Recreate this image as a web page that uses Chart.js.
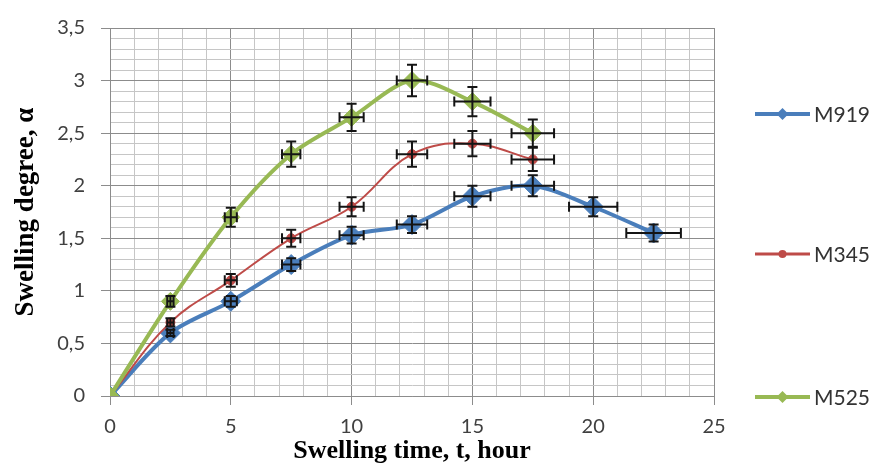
<!DOCTYPE html>
<html>
<head>
<meta charset="utf-8">
<script src="https://cdn.jsdelivr.net/npm/chart.js@4.4.1/dist/chart.umd.min.js"></script>
<style>
html, body { margin: 0; padding: 0; background: #fff; }
#wrap { width: 875px; height: 470px; position: relative; }
</style>
</head>
<body>
<div id="wrap"><canvas id="chart"></canvas></div>
<script>
// --- values --------------------------------------------------------------
var seriesNames = ["M919", "M345", "M525"];

var timeM919 = [0, 2.5, 5, 7.5, 10, 12.5, 15, 17.5, 20, 22.5];
var degreeM919 = [0, 0.6, 0.9, 1.25, 1.53, 1.63, 1.9, 2.0, 1.8, 1.55];
var timeErrM919 = [0, 0.13, 0.25, 0.38, 0.5, 0.63, 0.75, 0.88, 1.0, 1.13];
var degreeErrM919 = [0, 0.03, 0.05, 0.06, 0.08, 0.08, 0.1, 0.1, 0.09, 0.08];

var timeM345 = [0, 2.5, 5, 7.5, 10, 12.5, 15, 17.5];
var degreeM345 = [0, 0.7, 1.1, 1.5, 1.8, 2.3, 2.4, 2.25];
var timeErrM345 = [0, 0.13, 0.25, 0.38, 0.5, 0.63, 0.75, 0.88];
var degreeErrM345 = [0, 0.04, 0.06, 0.08, 0.09, 0.12, 0.12, 0.11];

var timeM525 = [0, 2.5, 5, 7.5, 10, 12.5, 15, 17.5];
var degreeM525 = [0, 0.9, 1.7, 2.3, 2.65, 3.0, 2.8, 2.5];
var timeErrM525 = [0, 0.13, 0.25, 0.38, 0.5, 0.63, 0.75, 0.88];
var degreeErrM525 = [0, 0.05, 0.09, 0.12, 0.13, 0.15, 0.14, 0.13];

// labelled (major) ticks; minor grid every 1 h / 0.1
var xTickValues = [0, 5, 10, 15, 20, 25];
var xTickLabels = ["0", "5", "10", "15", "20", "25"];
var yTickValues = [0, 0.5, 1, 1.5, 2, 2.5, 3, 3.5];
var yTickLabels = ["0", "0,5", "1", "1,5", "2", "2,5", "3", "3,5"];

var MAJOR_GRID = "#8c8c8c";
var MINOR_GRID = "#c6c6c6";

function findTick(list, v) {
    for (var i = 0; i < list.length; i++) {
        if (Math.abs(list[i] - v) < 1e-6) return i;
    }
    return -1;
}

function toPoints(xs, ys) {
    var pts = [];
    for (var i = 0; i < xs.length; i++) pts.push({x: xs[i], y: ys[i]});
    return pts;
}

// --- error bars, drawn through the chart's scales ------------------------
var errorBarPlugin = {
    id: "errorBars",
    afterDatasetsDraw: function (chart) {
        var ctx = chart.ctx;
        var xs = chart.scales.x, ys = chart.scales.y;
        var cap = 5;
        ctx.save();
        ctx.strokeStyle = "#141414";
        ctx.lineWidth = 2;
        chart.data.datasets.forEach(function (ds) {
            ds.data.forEach(function (p, i) {
                var px = xs.getPixelForValue(p.x);
                var py = ys.getPixelForValue(p.y);
                var ey = ds.yErr[i], ex = ds.xErr[i];
                ctx.beginPath();
                if (ey > 0) {
                    var y1 = ys.getPixelForValue(p.y - ey), y2 = ys.getPixelForValue(p.y + ey);
                    ctx.moveTo(px, y1); ctx.lineTo(px, y2);
                    ctx.moveTo(px - cap, y1); ctx.lineTo(px + cap, y1);
                    ctx.moveTo(px - cap, y2); ctx.lineTo(px + cap, y2);
                }
                if (ex > 0) {
                    var x1 = xs.getPixelForValue(p.x - ex), x2 = xs.getPixelForValue(p.x + ex);
                    ctx.moveTo(x1, py); ctx.lineTo(x2, py);
                    ctx.moveTo(x1, py - cap); ctx.lineTo(x1, py + cap);
                    ctx.moveTo(x2, py - cap); ctx.lineTo(x2, py + cap);
                }
                ctx.stroke();
            });
        });
        ctx.restore();
    }
};

// --- Excel-like legend spread down the right side ------------------------
var legendRows = [114, 254, 397];
var spreadLegendPlugin = {
    id: "spreadLegend",
    afterDraw: function (chart) {
        var ctx = chart.ctx;
        ctx.save();
        chart.data.datasets.forEach(function (ds, i) {
            var y = legendRows[i];
            var x0 = 755, x1 = 810, mx = (x0 + x1) / 2;
            ctx.strokeStyle = ds.borderColor;
            ctx.lineWidth = ds.legendLineWidth;
            ctx.beginPath();
            ctx.moveTo(x0, y); ctx.lineTo(x1, y);
            ctx.stroke();
            ctx.fillStyle = ds.backgroundColor;
            ctx.beginPath();
            var r = ds.legendMarker;
            if (ds.pointStyle === "circle") {
                ctx.arc(mx, y, r, 0, Math.PI * 2);
            } else {
                ctx.moveTo(mx, y - r); ctx.lineTo(mx + r, y);
                ctx.lineTo(mx, y + r); ctx.lineTo(mx - r, y);
                ctx.closePath();
            }
            ctx.fill();
            ctx.fillStyle = "#333333";
            ctx.font = "21px Lato";
            ctx.textBaseline = "middle";
            ctx.textAlign = "left";
            ctx.fillText(ds.label, 814, y + 1);
        });
        ctx.restore();
    }
};

var datasets = [
    {
        label: seriesNames[0],
        data: toPoints(timeM919, degreeM919),
        xErr: timeErrM919, yErr: degreeErrM919,
        borderColor: "#4a7ebb", backgroundColor: "#4a7ebb",
        borderWidth: 4, tension: 0.3,
        pointStyle: "rectRot", pointRadius: 10, pointBorderWidth: 1,
        legendLineWidth: 4, legendMarker: 6,
        order: 2
    },
    {
        label: seriesNames[1],
        data: toPoints(timeM345, degreeM345),
        xErr: timeErrM345, yErr: degreeErrM345,
        borderColor: "#be4b48", backgroundColor: "#be4b48",
        borderWidth: 2, tension: 0.4,
        pointStyle: "circle", pointRadius: 4.5, pointBorderWidth: 1,
        legendLineWidth: 3, legendMarker: 4,
        order: 1
    },
    {
        label: seriesNames[2],
        data: toPoints(timeM525, degreeM525),
        xErr: timeErrM525, yErr: degreeErrM525,
        borderColor: "#98b954", backgroundColor: "#98b954",
        borderWidth: 4, tension: 0.3,
        pointStyle: "rectRot", pointRadius: 9, pointBorderWidth: 1,
        legendLineWidth: 4, legendMarker: 6,
        order: 0
    }
];

new Chart(document.getElementById("chart"), {
    type: "line",
    data: {datasets: datasets},
    plugins: [errorBarPlugin, spreadLegendPlugin],
    options: {
        responsive: true,
        maintainAspectRatio: false,
        animation: false,
        devicePixelRatio: 1,
        layout: {padding: {left: 0, top: 24, right: 161, bottom: 0}},
        plugins: {legend: {display: false}, tooltip: {enabled: false}},
        scales: {
            x: {
                type: "linear", min: 0, max: 25,
                afterFit: function (s) { s.height = 74; },
                ticks: {
                    stepSize: 1, autoSkip: false, maxRotation: 0, padding: 10,
                    color: "#404040", font: {family: "Lato", size: 20},
                    callback: function (v) {
                        var k = findTick(xTickValues, v);
                        return k < 0 ? "" : xTickLabels[k];
                    }
                },
                grid: {
                    tickLength: 9,
                    color: function (c) { return findTick(xTickValues, c.tick.value) < 0 ? MINOR_GRID : MAJOR_GRID; },
                    tickColor: function (c) { return findTick(xTickValues, c.tick.value) < 0 ? "rgba(0,0,0,0)" : MAJOR_GRID; }
                },
                border: {color: MAJOR_GRID},
                title: {
                    display: true, text: "Swelling time, t, hour", color: "#000",
                    font: {family: "Liberation Serif", size: 26, weight: "bold", lineHeight: 1.2},
                    padding: {top: 0, bottom: 3}
                }
            },
            y: {
                type: "linear", min: 0, max: 3.5,
                afterFit: function (s) { s.width = 110; },
                ticks: {
                    stepSize: 0.1, autoSkip: false, padding: 16,
                    color: "#404040", font: {family: "Lato", size: 20},
                    callback: function (v) {
                        var k = findTick(yTickValues, v);
                        return k < 0 ? "" : yTickLabels[k];
                    }
                },
                grid: {
                    tickLength: 9,
                    color: function (c) { return findTick(yTickValues, c.tick.value) < 0 ? MINOR_GRID : MAJOR_GRID; },
                    tickColor: function (c) { return findTick(yTickValues, c.tick.value) < 0 ? "rgba(0,0,0,0)" : MAJOR_GRID; }
                },
                border: {color: MAJOR_GRID},
                title: {
                    display: true, text: "Swelling degree, α", color: "#000",
                    font: {family: "Liberation Serif", size: 27, weight: "bold", lineHeight: 1.2},
                    padding: {top: 10, bottom: 0}
                }
            }
        }
    }
});
</script>
</body>
</html>
